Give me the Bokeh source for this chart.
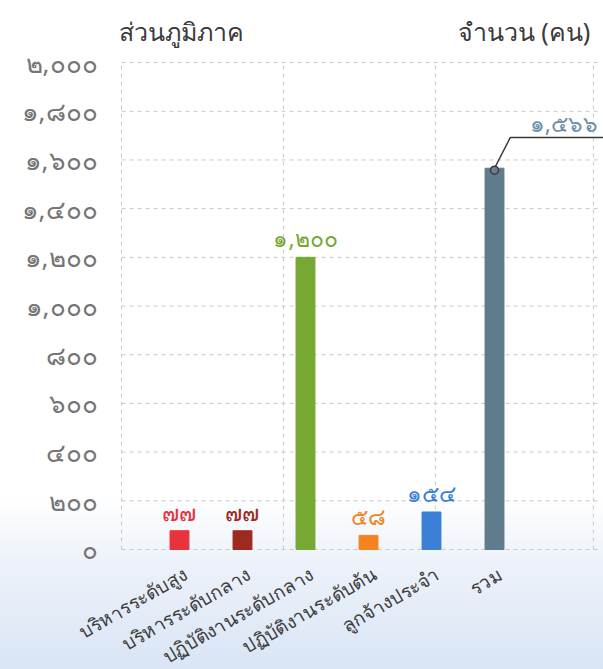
from math import pi
from bokeh.plotting import figure
from bokeh.models import ColumnDataSource
from bokeh.core.properties import value
from bokeh.embed import file_html
from bokeh.resources import INLINE

categories = ["บริหารระดับสูง", "บริหารระดับกลาง", "ปฏิบัติงานระดับกลาง",
              "ปฏิบัติงานระดับต้น", "ลูกจ้างประจำ", "รวม"]
counts = [77, 77, 1200, 58, 154, 1566]
count_labels = ["๗๗", "๗๗", "๑,๒๐๐", "๕๘", "๑๕๔", "๑,๕๖๖"]
bar_colors = ["#e8323e", "#9e2a1f", "#77a834", "#f5831f", "#3b7fd6", "#5f7b8c"]
label_colors = ["#e8323e", "#9e2a1f", "#77a834", "#f5831f", "#3b7fd6", "#6d8fa8"]
y_ticks = [0, 200, 400, 600, 800, 1000, 1200, 1400, 1600, 1800, 2000]
y_tick_labels = ["๐", "๒๐๐", "๔๐๐", "๖๐๐", "๘๐๐", "๑,๐๐๐", "๑,๒๐๐",
                 "๑,๔๐๐", "๑,๖๐๐", "๑,๘๐๐", "๒,๐๐๐"]
title_left = "ส่วนภูมิภาค"
title_right = "จำนวน (คน)"

FONT = "Noto Sans"
W, H = 603, 669
xs = list(range(len(categories)))
# plot area (in category units / value units)
PX0, PX1 = -0.92, 6.64
YMAX = 2000
x_range = (-2.841, 6.730)
y_range = (-493, 2255)

src = ColumnDataSource(dict(x=xs[:5], count=counts[:5], lab=count_labels[:5],
                            lcolor=label_colors[:5]))
src_all = ColumnDataSource(dict(x=xs, count=counts, color=bar_colors,
                                cat=categories, zero=[0] * len(xs)))
src_y = ColumnDataSource(dict(y=y_ticks, lab=y_tick_labels,
                              x=[PX0] * len(y_ticks), x1=[PX1] * len(y_ticks)))

p = figure(width=W, height=H, x_range=x_range, y_range=y_range,
           output_backend="svg", toolbar_location=None,
           min_border=0, x_axis_type=None, y_axis_type=None)
p.grid.visible = False
p.outline_line_color = None
p.border_fill_color = None
p.background_fill_color = None
p.styles = {"background-image":
            "linear-gradient(to bottom, #ffffff 0%, #ffffff 74%, #edf2fa 84%, #d9e5f5 100%)"}

# grid lines
p.segment(x0="x", x1="x1", y0="y", y1="y", source=src_y,
          line_color="#c9c9c9", line_dash="4 4", line_width=1)
vgrid = [PX0, 1.65, 4.06, 6.57]
p.segment(x0=vgrid, x1=vgrid, y0=[0] * 4, y1=[YMAX] * 4,
          line_color="#c9c9c9", line_dash="4 4", line_width=1)

# y tick labels
p.text(x="x", y="y", text="lab", source=src_y, x_offset=-24,
       text_align="right", text_baseline="middle", text_color="#767676",
       text_font=value(FONT), text_font_size="26px")

# bars
p.vbar(x="x", top="count", width=0.3, color="color", source=src_all)

# value labels
p.text(x="x", y="count", text="lab", source=src, text_color="lcolor",
       text_font=value(FONT), text_font_size="23px",
       text_align="center", text_baseline="bottom", y_offset=-3)

# category labels
p.text(x="x", y="zero", text="cat", source=src_all, angle=30 * pi / 180,
       text_align="right", text_baseline="middle",
       x_offset=6, y_offset=23, text_color="#3d3d3d",
       text_font=value(FONT), text_font_size="19px")

# callout for total
tx, tv = xs[5], counts[5]
p.line([tx, tx + 0.25, x_range[1]], [tv, tv + 126, tv + 126],
       line_color="#3a3a3a", line_width=1.5)
p.scatter([tx], [tv - 8], size=8, fill_color="#6f7f88", line_color="#3a3a3a", line_width=1.5)
p.text([tx + 1.1], [tv + 187], text=[count_labels[5]], text_color=label_colors[5],
       text_font=value(FONT), text_font_size="23px",
       text_align="center", text_baseline="middle")

# titles
p.text([-0.968], [2131], text=[title_left], text_color="#3a3a3a",
       text_font=value(FONT), text_font_size="25px",
       text_align="left", text_baseline="middle")
p.text([6.52], [2131], text=[title_right], text_color="#3a3a3a",
       text_font=value(FONT), text_font_size="25px",
       text_align="right", text_baseline="middle")

open("out.html", "w").write(file_html(p, INLINE))
